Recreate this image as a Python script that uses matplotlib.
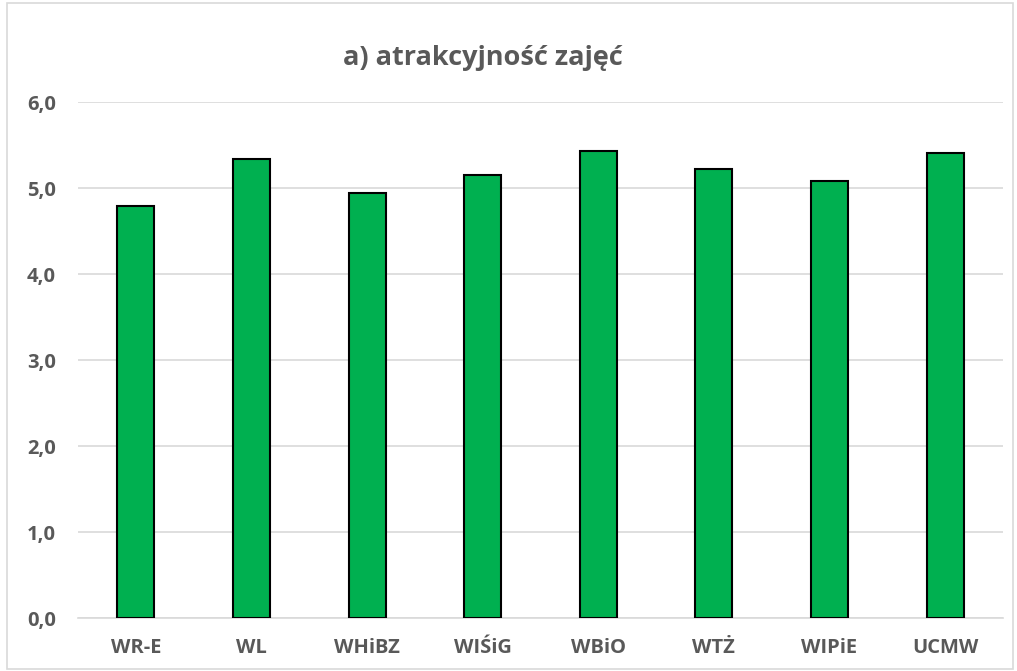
import matplotlib.pyplot as plt
from matplotlib.patches import Rectangle

categories = ["WR-E", "WL", "WHiBZ", "WIŚiG", "WBiO", "WTŻ", "WIPiE", "UCMW"]
values = [4.80, 5.34, 4.94, 5.15, 5.43, 5.23, 5.09, 5.41]
yticks = [0, 1, 2, 3, 4, 5, 6]
ytick_labels = ["0,0", "1,0", "2,0", "3,0", "4,0", "5,0", "6,0"]

plt.rcParams['font.family'] = ['Open Sans', 'DejaVu Sans']
grey = "#595959"

fig = plt.figure(figsize=(10.17, 6.71), dpi=100)
ax = fig.add_axes([0.0767, 0.0785, 0.9095, 0.769])

x = range(len(categories))
ax.bar(x, values, width=0.32, color="#00b050", edgecolor="black", linewidth=1.5, zorder=3)

ax.set_xlim(-0.5, len(categories) - 0.5)
ax.set_ylim(0, 6)
ax.set_yticks(yticks)
ax.set_yticklabels(ytick_labels)
ax.set_xticks(list(x))
ax.set_xticklabels(categories)
ax.grid(axis="y", color="#d9d9d9", linewidth=1.2, zorder=0)
for s in ["top", "right", "left"]:
    ax.spines[s].set_visible(False)
ax.spines["bottom"].set_color("#d9d9d9")
ax.spines["bottom"].set_linewidth(1.2)
ax.tick_params(length=0, colors=grey, labelsize=14.5)
for lab in ax.get_xticklabels() + ax.get_yticklabels():
    lab.set_fontweight("bold")
ax.tick_params(axis="x", pad=14)
ax.tick_params(axis="y", pad=16)

fig.text(0.475, 0.913, "a) atrakcyjność zajęć", ha="center", va="center",
         fontsize=19.5, fontweight="bold", color=grey)

fig.patches.append(Rectangle((0.007, 0.003), 0.989, 0.993, transform=fig.transFigure,
                             fill=False, edgecolor="#d9d9d9", linewidth=1.2))

plt.savefig("out.png", dpi=100)
